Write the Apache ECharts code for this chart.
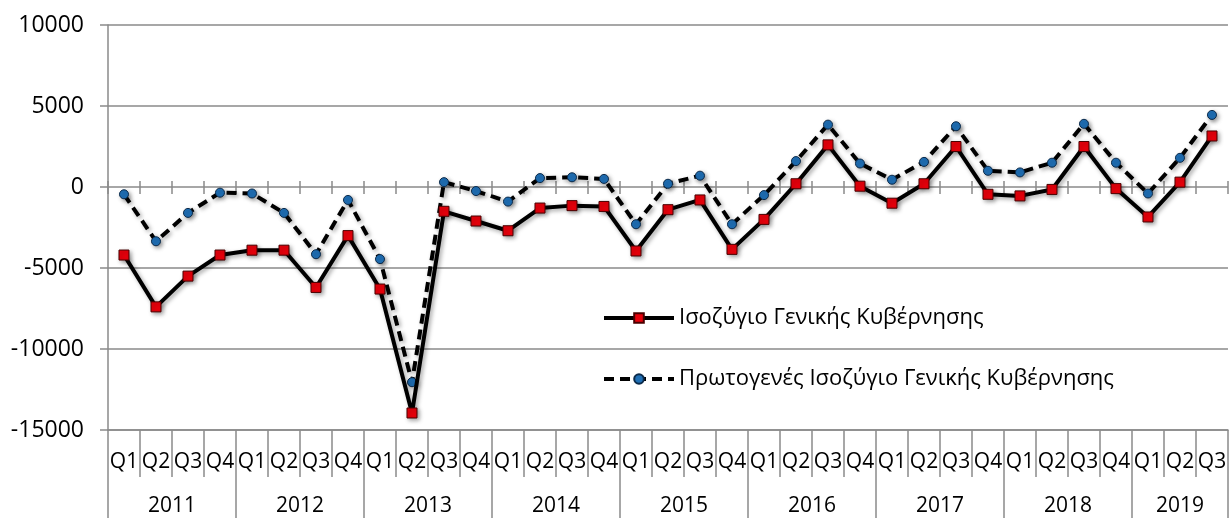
<!DOCTYPE html>
<html>
<head>
<meta charset="utf-8">
<script src="https://cdn.jsdelivr.net/npm/echarts@6/dist/echarts.min.js"></script>
<style>
html,body{margin:0;padding:0;background:#fff;}
#chart{width:1229px;height:518px;}
</style>
</head>
<body>
<div id="chart"></div>
<script>
// ---- data ----
const years = ['2011','2012','2013','2014','2015','2016','2017','2018','2019'];
const quartersPerYear = [4,4,4,4,4,4,4,4,3];
const quarterNames = ['Q1','Q2','Q3','Q4'];
const yTicks = [-15000,-10000,-5000,0,5000,10000];
const seriesNames = ['Ισοζύγιο Γενικής Κυβέρνησης','Πρωτογενές Ισοζύγιο Γενικής Κυβέρνησης'];
const balance = [-4200,-7400,-5500,-4200, -3900,-3900,-6200,-3000, -6300,-13950,-1500,-2100,
                 -2700,-1300,-1150,-1200, -3950,-1400,-800,-3850, -2000,200,2600,50,
                 -1000,200,2500,-450, -550,-150,2500,-100, -1850,300,3150];
const primaryBalance = [-450,-3350,-1600,-350, -400,-1600,-4150,-800, -4450,-12050,300,-250,
                 -900,550,600,500, -2300,200,700,-2300, -500,1600,3850,1450,
                 450,1550,3750,1000, 900,1500,3900,1500, -400,1800,4450];

// ---- derived ----
const categories = [];
const yearBounds = [];
const yearCenters = [];
let idx = 0;
years.forEach((y, i) => {
  yearBounds.push(idx - 0.5);
  yearCenters.push(idx + (quartersPerYear[i] - 1) / 2);
  for (let q = 0; q < quartersPerYear[i]; q++) categories.push(quarterNames[q]);
  idx += quartersPerYear[i];
});
yearBounds.push(idx - 0.5);
const n = categories.length;

const FONT = "'Open Sans', 'Noto Sans', sans-serif";
const GRID_COLOR = '#8a8a8a';
const shadow = {shadowColor:'rgba(0,0,0,0.35)', shadowBlur:4, shadowOffsetX:2, shadowOffsetY:2};

const chart = echarts.init(document.getElementById('chart'));
chart.setOption({
  animation: false,
  backgroundColor: '#fff',
  grid: {left: 108, top: 25, width: 32.3 * n, height: 405, containLabel: false},
  legend: {
    orient: 'vertical',
    left: 597, top: 301,
    itemWidth: 70, itemHeight: 12,
    itemGap: 37,
    lineStyle: {width: 4},
    textStyle: {fontFamily: FONT, fontSize: 22, color: '#000', lineHeight: 24},
    data: seriesNames
  },
  xAxis: [
    { // quarter labels
      type: 'category', data: categories, position: 'bottom', boundaryGap: true,
      axisLine: {onZero: false, show: true, lineStyle: {color: GRID_COLOR, width: 1.5}},
      axisTick: {show: true, interval: 0, length: 47, lineStyle: {color: GRID_COLOR, width: 1.5}},
      axisLabel: {interval: 0, fontFamily: FONT, fontSize: 21, color: '#000', margin: 22},
      splitLine: {show: false}
    },
    { // year labels
      type: 'value', min: -0.5, max: n - 0.5, position: 'bottom',
      axisLine: {onZero: false, show: false},
      axisTick: {show: true, customValues: yearBounds, length: 95, lineStyle: {color: GRID_COLOR, width: 1.5}},
      axisLabel: {
        customValues: yearCenters, fontFamily: FONT, fontSize: 21, color: '#000', margin: 66,
        formatter: v => { const k = yearCenters.indexOf(v); return k >= 0 ? years[k] : ''; }
      },
      splitLine: {show: false}
    },
    { // zero-line ticks (down)
      type: 'category', data: categories, boundaryGap: true,
      axisLine: {onZero: true, onZeroAxisIndex: 0, show: false},
      axisTick: {show: true, interval: 0, length: 6, lineStyle: {color: GRID_COLOR, width: 1.5}},
      axisLabel: {show: false}, splitLine: {show: false}
    },
    { // zero-line ticks (up)
      type: 'category', data: categories, boundaryGap: true,
      axisLine: {onZero: true, onZeroAxisIndex: 0, show: false},
      axisTick: {show: true, inside: true, interval: 0, length: 7, lineStyle: {color: GRID_COLOR, width: 1.5}},
      axisLabel: {show: false}, splitLine: {show: false}
    }
  ],
  yAxis: [{
    type: 'value', min: yTicks[0], max: yTicks[yTicks.length - 1], interval: 5000,
    axisLine: {show: true, onZero: false, lineStyle: {color: GRID_COLOR, width: 1.5}},
    axisTick: {show: true, length: 8, lineStyle: {color: GRID_COLOR, width: 1.5}},
    axisLabel: {fontFamily: FONT, fontSize: 23, color: '#000', margin: 24, formatter: v => String(v)},
    splitLine: {show: true, lineStyle: {color: GRID_COLOR, width: 1.5}}
  }],
  series: [
    {
      name: seriesNames[0], type: 'line', data: balance, xAxisIndex: 0,
      symbol: 'rect', symbolSize: 10,
      lineStyle: Object.assign({color: '#000', width: 4}, shadow),
      itemStyle: Object.assign({color: '#e8000b', borderColor: '#4a0000', borderWidth: 1}, shadow),
      z: 3
    },
    {
      name: seriesNames[1], type: 'line', data: primaryBalance, xAxisIndex: 0,
      symbol: 'circle', symbolSize: 9,
      lineStyle: Object.assign({color: '#000', width: 4, type: [10, 6]}, shadow),
      itemStyle: Object.assign({color: '#1f6fb5', borderColor: '#0b2a4a', borderWidth: 1}, shadow),
      z: 2
    }
  ]
});
</script>
</body>
</html>
